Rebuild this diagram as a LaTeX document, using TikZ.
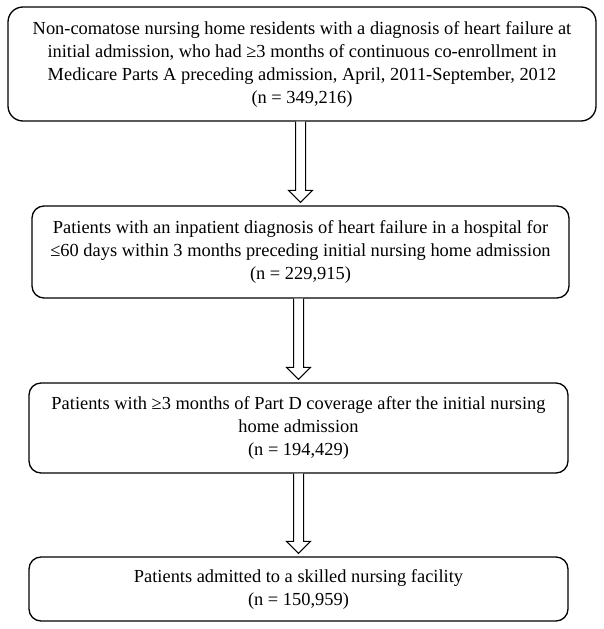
\documentclass[tikz,border=0pt]{standalone}
\usepackage{fontspec}
\setmainfont{Liberation Serif}
\usetikzlibrary{calc}
\tikzset{
flowbox/.style={
  draw,
  line width=1.3pt,
  rounded corners=12pt,
  align=center,
  font=\fontsize{18.4}{23}\selectfont,
  inner sep=0pt
  },
hollowarrow/.style={
  draw,
  line width=1pt,
  fill=white,
  line join=miter
  }
}

\begin{document}
\begin{tikzpicture}[x=1pt, y=1pt]
\useasboundingbox (0,0) rectangle (604,-629);

\node[flowbox, minimum width=588pt, minimum height=114pt, rounded corners=15pt]
at (302,-64)
(box1)
{Non-comatose nursing home residents with a diagnosis of heart failure at\\
initial admission, who had ≥3 months of continuous co-enrollment in\\
Medicare Parts A preceding admission, April, 2011-September, 2012\\
(n = 349,216)};

\node[flowbox, minimum width=537pt, minimum height=92pt]
at (300.5,-252)
(box2)
{Patients with an inpatient diagnosis of heart failure in a hospital for\\
≤60 days within 3 months preceding initial nursing home admission\\
(n = 229,915)};

\node[flowbox, minimum width=539pt, minimum height=90pt]
at (298.5,-428)
(box3)
{Patients with ≥3 months of Part D coverage after the initial nursing\\
home admission\\
(n = 194,429)};

\node[flowbox, minimum width=539pt, minimum height=64pt]
at (298.5,-589)
(box4)
{Patients admitted to a skilled nursing facility\\
(n = 150,959)};

\foreach \from/\to in {box1/box2,box2/box3,box3/box4}
{
\draw[hollowarrow]
  ($(\from.south -| \to.north)+(-5,0)$) -- ($(\to.north)+(-5,15)$)
  -- ($(\to.north)+(-12,15)$) -- ($(\to.north)+(0,3)$)
  -- ($(\to.north)+(12,15)$) -- ($(\to.north)+(5,15)$)
  -- ($(\from.south -| \to.north)+(5,0)$);
}
\end{tikzpicture}
\end{document}
